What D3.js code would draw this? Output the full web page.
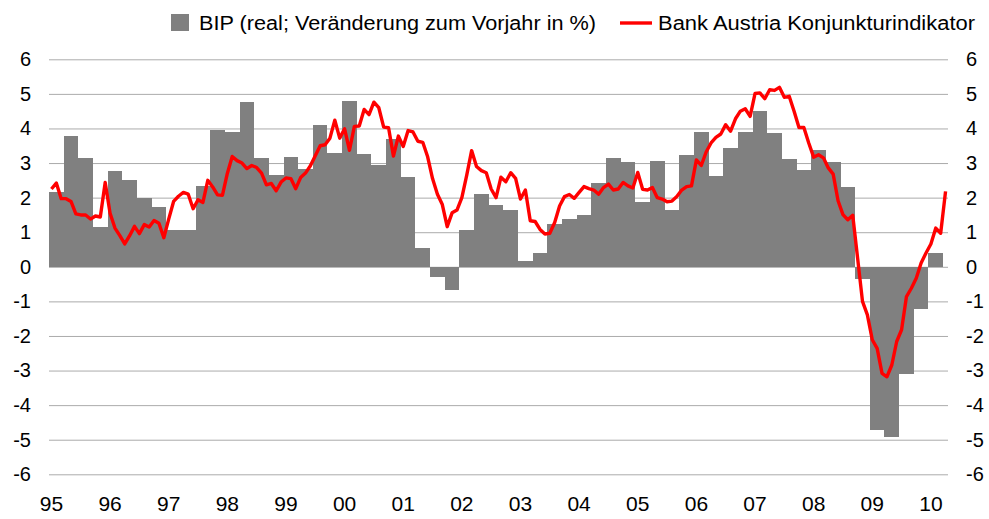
<!DOCTYPE html>
<html>
<head>
<meta charset="utf-8">
<script src="https://cdn.jsdelivr.net/npm/d3@7"></script>
<style>
    body { margin: 0; background: #fff; }
    svg text { font-family: "Liberation Sans", Arial, sans-serif; fill: #000; }
</style>
</head>
<body>
<div id="chart"></div>
<script>
// BIP, real, change vs. previous year in % (quarterly, 1995Q1 - 2010Q1)
const bip = [
    2.16, 3.78, 3.15, 1.15,   2.77, 2.51, 2.0, 1.73,   1.06, 1.06, 2.34, 3.96,
    3.91, 4.76, 3.15, 2.65,   3.17, 2.83, 4.1, 3.28,   4.79, 3.26, 2.94, 3.69,
    2.6, 0.53, -0.29, -0.67,  1.06, 2.1, 1.79, 1.64,   0.17, 0.41, 1.24, 1.38,
    1.51, 2.41, 3.16, 3.02,   1.86, 3.05, 1.64, 3.23,  3.9, 2.62, 3.43, 3.9,
    4.5, 3.87, 3.12, 2.8,     3.38, 3.02, 2.3, -0.35,  -4.72, -4.92, -3.1, -1.22,
    0.39
];

// Bank Austria Konjunkturindikator (monthly, Jan 1995 - Apr 2010)
const indikator = [
    2.25, 2.42, 1.97, 1.97, 1.89, 1.53, 1.5, 1.5, 1.38, 1.47, 1.44, 2.44,
    1.55, 1.12, 0.9, 0.66, 0.9, 1.17, 0.96, 1.22, 1.15, 1.34, 1.26, 0.84,
    1.38, 1.89, 2.04, 2.15, 2.1, 1.68, 1.94, 1.86, 2.5, 2.31, 2.08, 2.07,
    2.7, 3.19, 3.07, 3.0, 2.84, 2.93, 2.87, 2.71, 2.37, 2.41, 2.2, 2.45,
    2.57, 2.55, 2.26, 2.58, 2.71, 2.92, 3.21, 3.5, 3.53, 3.72, 4.24, 3.72,
    3.99, 3.37, 4.06, 4.07, 4.55, 4.4, 4.76, 4.6, 4.04, 4.02, 3.2, 3.78,
    3.48, 3.94, 3.9, 3.63, 3.6, 3.18, 2.55, 2.1, 1.8, 1.16, 1.56, 1.64,
    2.0, 2.65, 3.36, 2.9, 2.78, 2.72, 2.25, 2.0, 2.59, 2.46, 2.72, 2.56,
    1.96, 2.22, 1.33, 1.31, 1.08, 0.95, 0.97, 1.28, 1.76, 2.03, 2.09, 1.98,
    2.15, 2.32, 2.26, 2.22, 2.1, 2.29, 2.39, 2.22, 2.25, 2.44, 2.34, 2.28,
    2.73, 2.24, 2.22, 2.29, 2.0, 1.96, 1.88, 1.9, 2.03, 2.22, 2.32, 2.34,
    3.09, 2.93, 3.32, 3.58, 3.74, 3.84, 4.11, 3.92, 4.28, 4.5, 4.57, 4.35,
    5.01, 5.03, 4.86, 5.12, 5.1, 5.19, 4.9, 4.93, 4.5, 4.03, 4.03, 3.58,
    3.17, 3.24, 3.15, 2.86, 2.68, 1.91, 1.51, 1.36, 1.49, 0.25, -1.0, -1.39,
    -2.11, -2.36, -3.08, -3.18, -2.84, -2.16, -1.82, -0.86, -0.62, -0.33, 0.11, 0.4,
    0.66, 1.12, 0.97, 2.18
];

const yearLabels = ["95", "96", "97", "98", "99", "00", "01", "02", "03", "04", "05", "06", "07", "08", "09", "10"];
const yTicks = [-6, -5, -4, -3, -2, -1, 0, 1, 2, 3, 4, 5, 6];
const legendLabels = ["BIP (real; Veränderung zum Vorjahr in %)", "Bank Austria Konjunkturindikator"];

var config = {
    width: 989,
    height: 519,
    plot: {left: 49, right: 948, top: 59.3, bottom: 474.3}
};

// month keys, e.g. "95-0"
const months = indikator.map((d, i) => yearLabels[Math.floor(i / 12)] + "-" + (i % 12));

const svg = d3.select("#chart").append("svg")
    .attr("width", config.width)
    .attr("height", config.height);

const xscale = d3.scaleBand()
    .domain(months)
    .range([config.plot.left, config.plot.right])
    .padding(0);

const yscale = d3.scaleLinear()
    .domain([-6, 6])
    .range([config.plot.bottom, config.plot.top]);

// plain hyphen for negatives, like the original
const yFormat = d => String(d);

// gridlines + left labels
const yLeft = svg.append("g")
    .attr("transform", "translate(" + config.plot.left + ",0)")
    .call(d3.axisLeft(yscale).tickValues(yTicks).tickFormat(yFormat)
        .tickSize(-(config.plot.right - config.plot.left)).tickPadding(18));
yLeft.select(".domain").remove();
yLeft.selectAll(".tick line").attr("stroke", "#ababab").attr("stroke-width", 1);
yLeft.selectAll(".tick text").attr("font-size", "20px").attr("font-family", "Liberation Sans, Arial, sans-serif");

// right labels
const yRight = svg.append("g")
    .attr("transform", "translate(" + config.plot.right + ",0)")
    .call(d3.axisRight(yscale).tickValues(yTicks).tickFormat(yFormat).tickSize(0).tickPadding(18));
yRight.select(".domain").remove();
yRight.selectAll(".tick text").attr("font-size", "20px").attr("font-family", "Liberation Sans, Arial, sans-serif");

// bars: each quarter covers three months
svg.append("g")
    .selectAll("rect")
    .data(bip)
    .enter()
    .append("rect")
    .attr("x", (d, i) => xscale(months[i * 3]))
    .attr("width", xscale.bandwidth() * 3)
    .attr("y", d => yscale(Math.max(0, d)))
    .attr("height", d => Math.abs(yscale(d) - yscale(0)))
    .attr("fill", "#808080")
    .attr("shape-rendering", "crispEdges");

// indicator line
const line = d3.line()
    .x((d, i) => xscale(months[i]) + xscale.bandwidth() / 2)
    .y(d => yscale(d));

svg.append("path")
    .datum(indikator)
    .attr("d", line)
    .attr("fill", "none")
    .attr("stroke", "#ff0000")
    .attr("stroke-width", 3.4)
    .attr("stroke-linejoin", "round");

// x axis: year labels at january
const xAxis = svg.append("g")
    .attr("transform", "translate(0," + config.plot.bottom + ")")
    .call(d3.axisBottom(xscale)
        .tickValues(yearLabels.map(y => y + "-0"))
        .tickFormat(d => d.split("-")[0])
        .tickSize(0)
        .tickPadding(22));
xAxis.select(".domain").remove();
xAxis.selectAll(".tick text").attr("font-size", "21px").attr("font-family", "Liberation Sans, Arial, sans-serif");

// legend
const legend = svg.append("g");
legend.append("rect")
    .attr("x", 171).attr("y", 14)
    .attr("width", 18).attr("height", 17)
    .attr("fill", "#808080");
legend.append("text")
    .attr("x", 199).attr("y", 30)
    .attr("font-size", "20px")
    .attr("textLength", 397).attr("lengthAdjust", "spacingAndGlyphs")
    .text(legendLabels[0]);
legend.append("line")
    .attr("x1", 620).attr("x2", 652)
    .attr("y1", 23).attr("y2", 23)
    .attr("stroke", "#ff0000").attr("stroke-width", 3.4);
legend.append("text")
    .attr("x", 658).attr("y", 30)
    .attr("font-size", "20px")
    .attr("textLength", 317).attr("lengthAdjust", "spacingAndGlyphs")
    .text(legendLabels[1]);
</script>
</body>
</html>
